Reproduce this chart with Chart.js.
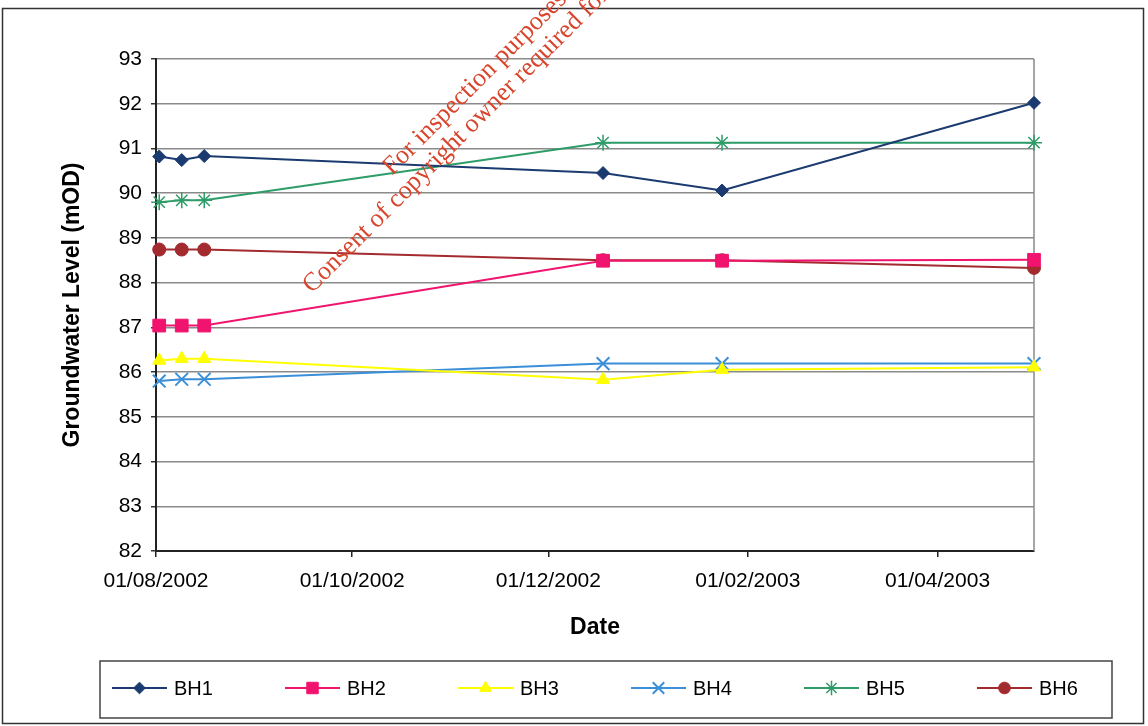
<!DOCTYPE html>
<html>
<head>
<meta charset="utf-8">
<script src="https://cdn.jsdelivr.net/npm/chart.js@4.4.1/dist/chart.umd.min.js"></script>
<style>
  html, body { margin: 0; padding: 0; background: #fff; }
  #wrap { width: 1148px; height: 726px; }
</style>
</head>
<body>
<div id="wrap"><canvas id="gwChart" width="1148" height="726"></canvas></div>
<script>
// sample dates and groundwater levels (mOD)
const sampleDates = ["2002-08-02", "2002-08-09", "2002-08-16", "2002-12-18", "2003-01-24", "2003-05-01"];
const bh1 = [90.82, 90.74, 90.83, 90.45, 90.06, 92.02];
const bh2 = [87.04, 87.04, 87.04, 88.49, 88.49, 88.51];
const bh3 = [86.26, 86.30, 86.30, 85.83, 86.05, 86.11];
const bh4 = [85.80, 85.84, 85.84, 86.19, 86.19, 86.19];
const bh5 = [89.80, 89.84, 89.84, 91.13, 91.13, 91.13];
const bh6 = [88.74, 88.74, 88.74, 88.50, 88.50, 88.33];
const seriesNames = ["BH1", "BH2", "BH3", "BH4", "BH5", "BH6"];

const baseDate = "2002-08-01";
const xTickDates = ["2002-08-01", "2002-10-01", "2002-12-01", "2003-02-01", "2003-04-01"];
const xTickLabels = ["01/08/2002", "01/10/2002", "01/12/2002", "01/02/2003", "01/04/2003"];
const yMin = 82, yMax = 93;

const FONT = "'Liberation Sans', Arial, sans-serif";

function dayOf(s) {
  return (Date.parse(s) - Date.parse(baseDate)) / 86400000;
}

const styles = [
  { color: "#1b3a70", point: "rectRot", r: 6.5, bw: 1 },
  { color: "#f0146e", point: "rect", r: 9, bw: 1 },
  { color: "#ffff00", point: "triangle", r: 7.5, bw: 1 },
  { color: "#3a8fd8", point: "crossRot", r: 9, bw: 2 },
  { color: "#2e9c68", point: "star", r: 8, bw: 1.5 },
  { color: "#a32a2e", point: "circle", r: 6.5, bw: 1 }
];

function makeSet(name, values, st) {
  return {
    label: name,
    data: values.map((v, i) => ({ x: dayOf(sampleDates[i]), y: v })),
    borderColor: st.color,
    backgroundColor: st.color,
    borderWidth: 2,
    pointStyle: st.point,
    pointRadius: st.r,
    pointBorderWidth: st.bw,
    pointBackgroundColor: st.color,
    pointBorderColor: st.color,
    tension: 0,
    clip: false
  };
}

const seriesValues = [bh1, bh2, bh3, bh4, bh5, bh6];
const datasets = seriesNames.map((n, i) => makeSet(n, seriesValues[i], styles[i]));

// right edge of the plot area, outer frame, legend and watermark
const extras = {
  id: "extras",
  beforeDatasetsDraw(chart) {
    const { ctx, chartArea: a } = chart;
    ctx.save();
    ctx.strokeStyle = "#8a8a8a";
    ctx.lineWidth = 1.5;
    ctx.beginPath();
    ctx.moveTo(a.right, a.top);
    ctx.lineTo(a.right, a.bottom);
    ctx.stroke();
    ctx.restore();
  },
  afterDraw(chart) {
    const ctx = chart.ctx;
    ctx.save();

    // outer frame
    ctx.strokeStyle = "#333";
    ctx.lineWidth = 1.5;
    ctx.strokeRect(2.5, 8.5, 1141, 715);

    // legend box
    ctx.strokeStyle = "#444";
    ctx.strokeRect(100, 661, 1012, 57);
    const ly = 688;
    chart.data.datasets.forEach((ds, i) => {
      const x0 = 112 + i * 173;
      ctx.strokeStyle = ds.borderColor;
      ctx.fillStyle = ds.borderColor;
      ctx.lineWidth = 2;
      ctx.beginPath();
      ctx.moveTo(x0, ly);
      ctx.lineTo(x0 + 55, ly);
      ctx.stroke();
      ctx.lineWidth = ds.pointBorderWidth;
      Chart.helpers.drawPoint(ctx, {
        pointStyle: ds.pointStyle,
        radius: ds.pointRadius * 0.9,
        rotation: 0,
        borderWidth: ds.pointBorderWidth
      }, x0 + 27.5, ly);
      ctx.fillStyle = "#000";
      ctx.font = "20px " + FONT;
      ctx.textBaseline = "middle";
      ctx.textAlign = "left";
      ctx.fillText(ds.label, x0 + 62, ly + 1);
    });

    // watermark
    ctx.fillStyle = "#d8452c";
    ctx.font = "26px 'Liberation Serif', 'Times New Roman', serif";
    ctx.textAlign = "left";
    ctx.textBaseline = "alphabetic";
    const ang = -45 * Math.PI / 180;
    ctx.save();
    ctx.translate(392, 176);
    ctx.rotate(ang);
    ctx.fillText("For inspection purposes only.", 0, 0);
    ctx.restore();
    ctx.save();
    ctx.translate(312, 294);
    ctx.rotate(ang);
    ctx.fillText("Consent of copyright owner required for any other use.", 0, 0);
    ctx.restore();

    ctx.restore();
  }
};

new Chart(document.getElementById("gwChart"), {
  type: "line",
  data: { datasets: datasets },
  plugins: [extras],
  options: {
    responsive: false,
    animation: false,
    devicePixelRatio: 1,
    layout: { padding: { left: 55, top: 59, right: 114, bottom: 81 } },
    plugins: {
      legend: { display: false },
      tooltip: { enabled: false }
    },
    scales: {
      x: {
        type: "linear",
        min: 0,
        max: dayOf(sampleDates[sampleDates.length - 1]),
        afterFit(scale) { scale.height = 94; },
        afterBuildTicks(scale) {
          scale.ticks = xTickDates.map(d => ({ value: dayOf(d) }));
        },
        ticks: {
          autoSkip: false,
          maxRotation: 0,
          padding: 12,
          color: "#000",
          font: { family: FONT, size: 21 },
          callback: (v, i) => xTickLabels[i]
        },
        grid: {
          drawOnChartArea: false,
          drawTicks: true,
          tickLength: 6,
          color: "#222",
          lineWidth: 1.5
        },
        border: { color: "#222", width: 2 },
        title: {
          display: true,
          text: "Date",
          color: "#000",
          font: { family: FONT, size: 23, weight: "bold" },
          padding: { top: 4, bottom: 4 }
        }
      },
      y: {
        min: yMin,
        max: yMax,
        afterFit(scale) { scale.width = 101; },
        ticks: {
          stepSize: 1,
          padding: 9,
          color: "#000",
          font: { family: FONT, size: 21 }
        },
        grid: {
          color: "#8a8a8a",
          lineWidth: 1.5,
          tickLength: 5,
          tickColor: "#333"
        },
        border: { color: "#222", width: 2 },
        title: {
          display: true,
          text: "Groundwater Level (mOD)",
          color: "#000",
          font: { family: FONT, size: 23, weight: "bold" },
          padding: { top: 4, bottom: 4 }
        }
      }
    }
  }
});
</script>
</body>
</html>
